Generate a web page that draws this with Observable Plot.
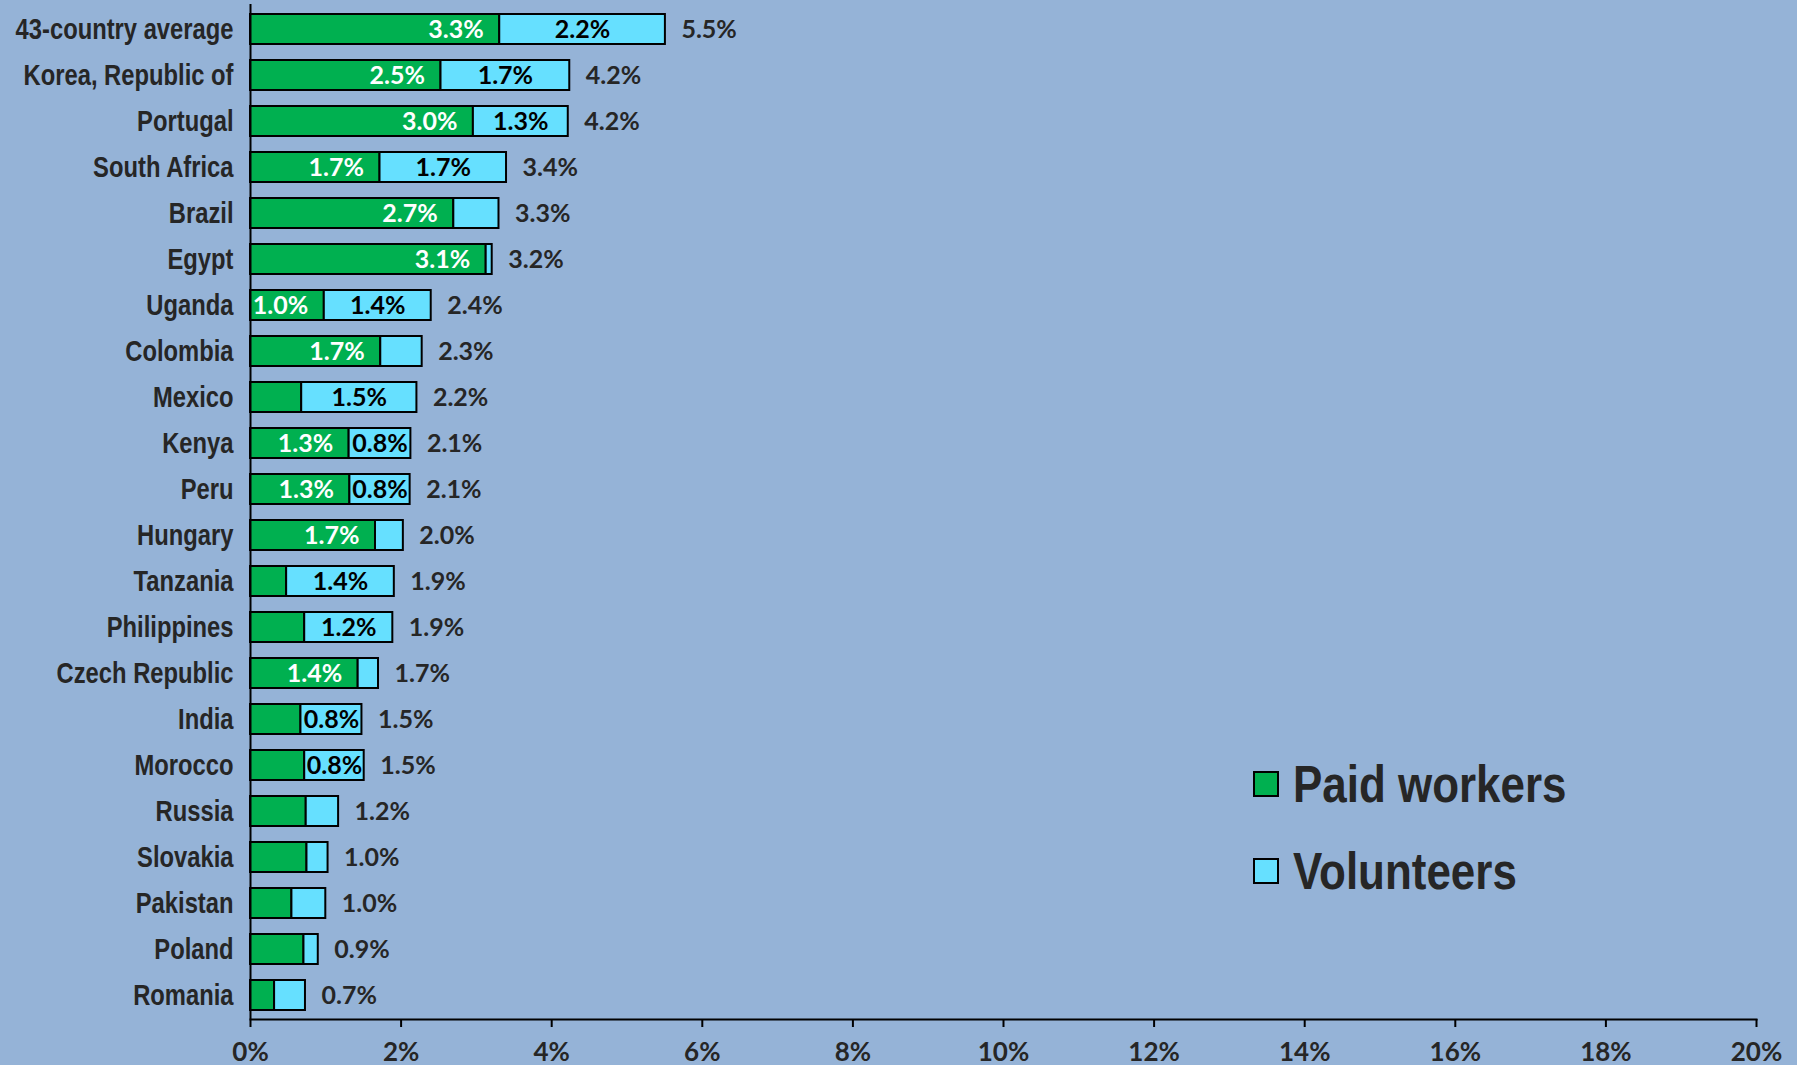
<!DOCTYPE html>
<html>
<head>
<meta charset="utf-8">
<script src="https://cdn.jsdelivr.net/npm/d3@7"></script>
<script src="https://cdn.jsdelivr.net/npm/@observablehq/plot@0.6"></script>
<style>
  html, body { margin: 0; padding: 0; background: #95B3D7; overflow: hidden; }
  #wrap { position: relative; width: 1797px; height: 1065px; background: #95B3D7; }
  #legend { position: absolute; left: 1253px; top: 752px; font-family: "Liberation Sans", Arial, sans-serif; font-weight: bold; font-size: 52px; color: #262626; }
  .item { display: flex; align-items: center; height: 64px; margin-bottom: 23px; }
  .sw { width: 26px; height: 26px; border: 2px solid #000; margin-right: 14px; box-sizing: border-box; flex: none; }
  .item span { display: inline-block; transform: scaleX(0.845); transform-origin: left center; white-space: nowrap; }
</style>
</head>
<body>
<div id="wrap"><div id="legend"></div></div>
<script>
const countries = ["43-country average", "Korea, Republic of", "Portugal", "South Africa", "Brazil", "Egypt", "Uganda", "Colombia", "Mexico", "Kenya", "Peru", "Hungary", "Tanzania", "Philippines", "Czech Republic", "India", "Morocco", "Russia", "Slovakia", "Pakistan", "Poland", "Romania"];
const paidWorkers = [3.31, 2.53, 2.96, 1.72, 2.70, 3.13, 0.98, 1.73, 0.68, 1.31, 1.32, 1.66, 0.48, 0.72, 1.43, 0.67, 0.72, 0.74, 0.75, 0.55, 0.71, 0.32];
const volunteers = [2.20, 1.71, 1.26, 1.68, 0.60, 0.08, 1.42, 0.55, 1.53, 0.82, 0.80, 0.37, 1.43, 1.17, 0.27, 0.81, 0.79, 0.43, 0.28, 0.45, 0.19, 0.41];
const seriesNames = ["Paid workers", "Volunteers"];
const seriesColors = ["#00B050", "#66E0FF"];
const xTicks = [0, 2, 4, 6, 8, 10, 12, 14, 16, 18, 20];

const rows = countries.map((c, i) => ({country: c, paid: paidWorkers[i], vol: volunteers[i], total: paidWorkers[i] + volunteers[i]}));
const segments = rows.flatMap(r => [
  {country: r.country, type: seriesNames[0], x1: 0, x2: r.paid},
  {country: r.country, type: seriesNames[1], x1: r.paid, x2: r.total}
]);
const fmt = v => v.toFixed(1) + "%";
const valueFont = "Lato, 'Open Sans', sans-serif";
const valueSize = 25;

const chart = Plot.plot({
  width: 1797,
  height: 1065,
  marginLeft: 250,
  marginRight: 41,
  marginTop: 4,
  marginBottom: 46,
  style: {background: "#95B3D7", color: "#000", overflow: "visible"},
  x: {domain: [0, 20], label: null},
  y: {domain: countries, paddingInner: 0.35, paddingOuter: 0.15, label: null},
  color: {domain: seriesNames, range: seriesColors},
  marks: [
    Plot.barX(segments, {x1: "x1", x2: "x2", y: "country", fill: "type", stroke: "#000", strokeWidth: 2}),
    Plot.ruleX([0], {stroke: "#000", strokeWidth: 2}),
    Plot.frame({anchor: "bottom", stroke: "#000", strokeWidth: 2}),
    Plot.axisX({ticks: xTicks, tickSize: 8, tickPadding: 15, strokeWidth: 2, tickFormat: d => d + "%", fontSize: 26, fontWeight: "bold", fontFamily: valueFont, fill: "#262626", label: null}),
    Plot.axisY({tickSize: 0, tickPadding: 17, fontSize: 29, fontWeight: "bold", fontFamily: "'Liberation Sans', Arial, sans-serif", fill: "#262626", label: null}),
    Plot.text(rows.filter(r => r.paid >= 0.95), {x: "paid", y: "country", text: r => fmt(r.paid), textAnchor: "end", dx: -16, fill: "#fff", fontSize: valueSize, fontWeight: "bold", fontFamily: valueFont}),
    Plot.text(rows.filter(r => r.vol >= 0.75), {x: r => r.paid + r.vol / 2, y: "country", text: r => fmt(r.vol), textAnchor: "middle", fill: "#000", fontSize: valueSize, fontWeight: "bold", fontFamily: valueFont}),
    Plot.text(rows, {x: "total", y: "country", text: r => fmt(r.total), textAnchor: "start", dx: 16, fill: "#262626", fontSize: valueSize, fontWeight: "bold", fontFamily: valueFont})
  ]
});
document.getElementById("wrap").prepend(chart);

// condense the category labels horizontally (narrow face not installed)
chart.querySelectorAll('g[aria-label="y-axis tick label"] text').forEach(t => {
  const x = +t.getAttribute("x") || 0;
  const y = +t.getAttribute("y") || 0;
  const tr = t.getAttribute("transform") || "";
  t.setAttribute("transform", `${tr} translate(${x},${y}) scale(0.82,1) translate(${-x},${-y})`);
});

const legend = document.getElementById("legend");
seriesNames.forEach((name, i) => {
  const item = document.createElement("div");
  item.className = "item";
  const sw = document.createElement("div");
  sw.className = "sw";
  sw.style.background = seriesColors[i];
  const label = document.createElement("span");
  label.textContent = name;
  item.append(sw, label);
  legend.append(item);
});
</script>
</body>
</html>
